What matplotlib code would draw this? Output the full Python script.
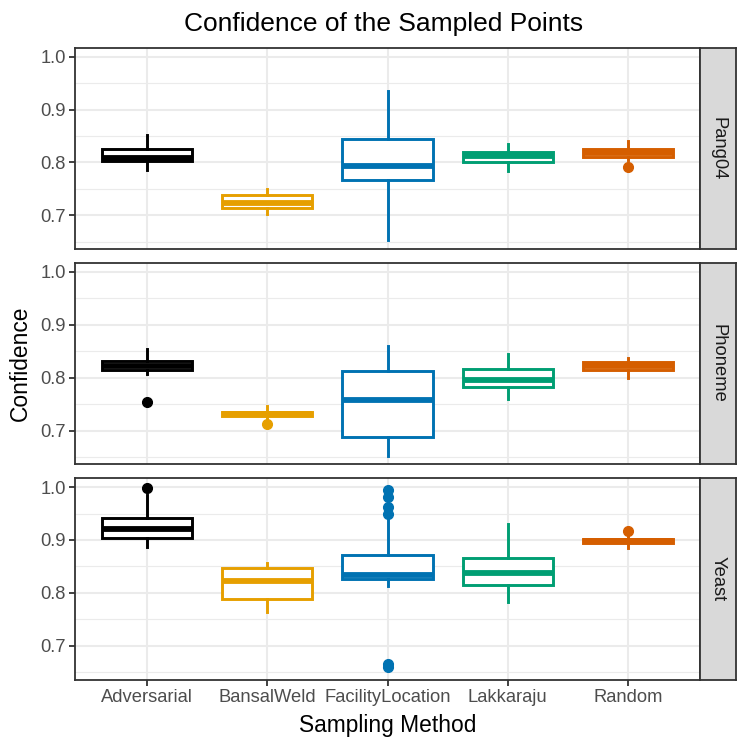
import matplotlib
matplotlib.use("Agg")
import matplotlib.pyplot as plt

plt.rcParams['font.family'] = ['Liberation Sans', 'DejaVu Sans']

methods = ['Adversarial', 'BansalWeld', 'FacilityLocation', 'Lakkaraju', 'Random']
datasets = ['Pang04', 'Phoneme', 'Yeast']
colors = ['#000000', '#E69F00', '#0072B2', '#009E73', '#D55E00']

# box stats, one list per dataset (order = methods)
pang04_lo = [0.785, 0.702, 0.653, 0.783, 0.805]
pang04_q1 = [0.802, 0.714, 0.767, 0.800, 0.811]
pang04_med = [0.809, 0.724, 0.793, 0.812, 0.818]
pang04_q3 = [0.826, 0.738, 0.844, 0.819, 0.825]
pang04_hi = [0.851, 0.750, 0.935, 0.834, 0.841]
pang04_out = [[], [], [], [], [0.792]]

phoneme_lo = [0.806, 0.721, 0.652, 0.760, 0.800]
phoneme_q1 = [0.815, 0.727, 0.687, 0.782, 0.815]
phoneme_med = [0.823, 0.731, 0.758, 0.795, 0.822]
phoneme_q3 = [0.832, 0.735, 0.812, 0.817, 0.829]
phoneme_hi = [0.855, 0.746, 0.859, 0.844, 0.838]
phoneme_out = [[0.754], [0.7125], [], [], []]

yeast_lo = [0.886, 0.764, 0.813, 0.782, 0.884]
yeast_q1 = [0.903, 0.789, 0.827, 0.814, 0.894]
yeast_med = [0.921, 0.822, 0.834, 0.837, 0.898]
yeast_q3 = [0.941, 0.847, 0.872, 0.865, 0.902]
yeast_hi = [0.985, 0.857, 0.940, 0.930, 0.906]
yeast_out = [[0.999], [], [0.994, 0.981, 0.9625, 0.95, 0.666, 0.659], [], [0.917]]

panels = [
    (pang04_lo, pang04_q1, pang04_med, pang04_q3, pang04_hi, pang04_out),
    (phoneme_lo, phoneme_q1, phoneme_med, phoneme_q3, phoneme_hi, phoneme_out),
    (yeast_lo, yeast_q1, yeast_med, yeast_q3, yeast_hi, yeast_out),
]

W = H = 747
fig = plt.figure(figsize=(7.47, 7.47), dpi=100)

left, right = 75, 700
strip_w = 36
top0, ph, gap = 47.7, 201.5, 13.7
lw = 2.1

for i, (lo, q1, med, q3, hi, out) in enumerate(panels):
    top = top0 + i * (ph + gap)
    ax = fig.add_axes([left / W, 1 - (top + ph) / H, (right - left) / W, ph / H])
    stats = []
    for j in range(len(methods)):
        stats.append(dict(whislo=lo[j], q1=q1[j], med=med[j], q3=q3[j],
                          whishi=hi[j], fliers=out[j]))
    for j, st in enumerate(stats):
        c = colors[j]
        ax.bxp([st], positions=[j + 1], widths=0.75, patch_artist=True,
               showcaps=False, zorder=3,
               boxprops=dict(facecolor='white', edgecolor=c, linewidth=lw),
               medianprops=dict(color=c, linewidth=lw * 2, solid_capstyle='butt'),
               whiskerprops=dict(color=c, linewidth=lw),
               flierprops=dict(marker='o', markerfacecolor=c, markeredgecolor=c,
                               markersize=7))
    ax.set_xlim(0.4, 5.6)
    ax.set_ylim(0.636, 1.017)
    ax.set_yticks([0.7, 0.8, 0.9, 1.0])
    ax.set_yticklabels(['0.7', '0.8', '0.9', '1.0'])
    ax.set_yticks([0.65, 0.75, 0.85, 0.95], minor=True)
    ax.set_xticks(range(1, 6))
    ax.grid(True, which='major', color='#EBEBEB', linewidth=1.5, zorder=0)
    ax.grid(True, which='minor', axis='y', color='#EBEBEB', linewidth=0.8, zorder=0)
    ax.set_axisbelow(True)
    ax.tick_params(which='minor', length=0)
    ax.tick_params(which='major', length=4, width=1.3, color='#333333',
                   labelcolor='#4D4D4D', labelsize=13.2, pad=2.5)
    for s in ax.spines.values():
        s.set_color('#333333')
        s.set_linewidth(1.3)
    if i < 2:
        ax.set_xticklabels([])
        ax.tick_params(axis='x', length=0)
    else:
        ax.set_xticklabels(methods)

    sax = fig.add_axes([right / W, 1 - (top + ph) / H, strip_w / W, ph / H])
    sax.set_facecolor('#D9D9D9')
    sax.set_xticks([])
    sax.set_yticks([])
    for s in sax.spines.values():
        s.set_color('#333333')
        s.set_linewidth(1.3)
    sax.text(0.5, 0.5, datasets[i], rotation=270, ha='center', va='center',
             fontsize=13.2, color='#1A1A1A', transform=sax.transAxes)

fig.text(383.7 / W, 1 - 31 / H, 'Confidence of the Sampled Points',
         ha='center', va='baseline', fontsize=19)
fig.text(387.5 / W, 1 - 731.7 / H, 'Sampling Method',
         ha='center', va='baseline', fontsize=16.4)
fig.text(20 / W, 1 - 363 / H, 'Confidence', rotation=90,
         ha='center', va='center', fontsize=16.4)

fig.savefig('out.png', dpi=100)
